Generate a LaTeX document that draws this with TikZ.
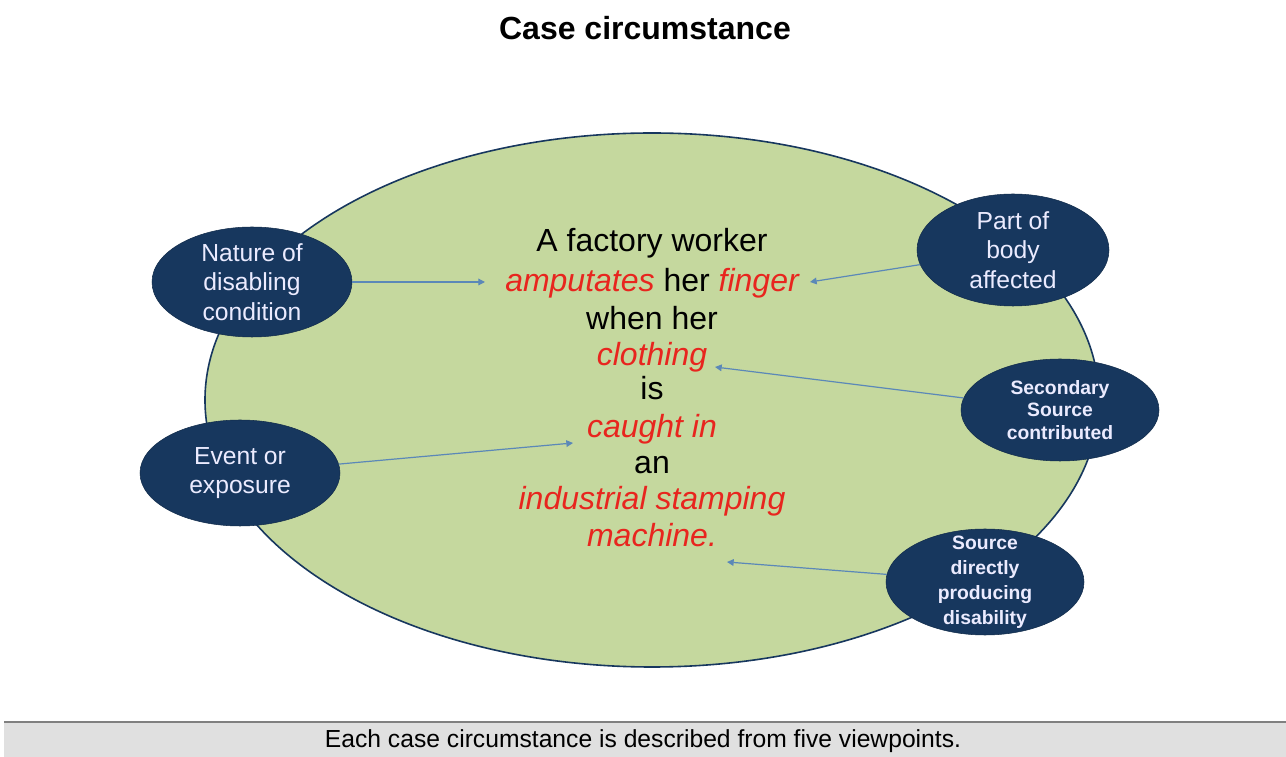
\documentclass[tikz,border=0pt]{standalone}
\usepackage{fontspec}
\setmainfont{Liberation Sans}
\usetikzlibrary{arrows.meta,shapes.geometric}
\definecolor{bigfill}{HTML}{C5D89E}
\definecolor{navy}{HTML}{17375E}
\definecolor{arrowblue}{HTML}{5B88B8}
\definecolor{redtxt}{HTML}{E8251E}
\definecolor{barfill}{HTML}{E0E0E0}
\tikzset{
  blob/.style={ellipse, fill=navy, draw=navy!80!black, text=white!92!blue, align=center, inner sep=0pt, font=\fontsize{18.5}{22}\selectfont},
  blobbold/.style={blob, font=\fontsize{14.5}{17}\selectfont\bfseries},
  blobtext/.style={text=white!92!blue, align=center, inner sep=0pt, font=\fontsize{14.5}{18.7}\selectfont\bfseries},
  link/.style={draw=arrowblue, line width=0.9pt, -{Triangle[length=5pt,width=5pt]}},
  line/.style={font=\fontsize{24}{28}\selectfont, inner sep=0pt, anchor=base}
}
\begin{document}
\begin{tikzpicture}[x=0.75pt,y=0.75pt]
\useasboundingbox (0,0) rectangle (1286,757);
% coordinates: y = 757 - ypx
\node[font=\fontsize{24}{28}\selectfont\bfseries] (title) at (645,757-28) {Case circumstance};
% big ellipse
\node[ellipse, fill=bigfill, draw=navy, line width=1.2pt, minimum width=894*0.75pt, minimum height=534*0.75pt, inner sep=0pt] (big) at (652,757-400) {};
% central text
\node[line] (l1) at (652,757-252) {A factory worker};
\node[line] (l2) at (652,757-292) {\textcolor{redtxt}{\itshape amputates} her \textcolor{redtxt}{\itshape finger}};
\node[line] (l3) at (652,757-330) {when her};
\node[line] (l4) at (652,757-366) {\textcolor{redtxt}{\itshape clothing}};
\node[line] (l5) at (652,757-400) {is};
\node[line] (l6) at (652,757-438) {\textcolor{redtxt}{\itshape caught in}};
\node[line] (l7) at (652,757-474) {an};
\node[line] (l8) at (652,757-510) {\textcolor{redtxt}{\itshape industrial stamping}};
\node[line] (l9) at (652,757-547) {\textcolor{redtxt}{\itshape machine.}};
% targets
\coordinate (t1) at (485,757-282);
\coordinate (t2) at (810,757-282);
\coordinate (t3) at (715,757-367);
\coordinate (t4) at (573,757-443);
\coordinate (t5) at (727,757-562);
% small ellipses
\node[blob, minimum width=200*0.75pt, minimum height=110*0.75pt] (nature) at (252,757-282) {Nature of\\disabling\\condition};
\node[blob, minimum width=200*0.75pt, minimum height=106*0.75pt] (event) at (240,757-473) {Event or\\exposure};
\node[blob, minimum width=192*0.75pt, minimum height=112*0.75pt] (part) at (1013,757-250) {Part of\\body\\affected};
\node[blobbold, minimum width=198*0.75pt, minimum height=102*0.75pt] (second) at (1060,757-410) {Secondary\\Source\\contributed};
\node[blob, minimum width=198*0.75pt, minimum height=106*0.75pt] (direct) at (985,757-582) {};
\node[blobtext] (directtext) at (985,757-582) {Source\\directly\\producing\\disability};
% connectors
\draw[link] (nature) -- (t1);
\draw[link] (part) -- (t2);
\draw[link] (second) -- (t3);
\draw[link] (event) -- (t4);
\draw[link] (direct) -- (t5);
% bottom bar
\fill[barfill] (4,0) rectangle (1286,757-723);
\draw[draw=gray, line width=2.2pt] (4,757-722) -- (1286,757-722);
\node[font=\fontsize{18.5}{22}\selectfont, inner sep=0pt] (caption) at (643,757-741) {Each case circumstance is described from five viewpoints.};
\end{tikzpicture}
\end{document}
